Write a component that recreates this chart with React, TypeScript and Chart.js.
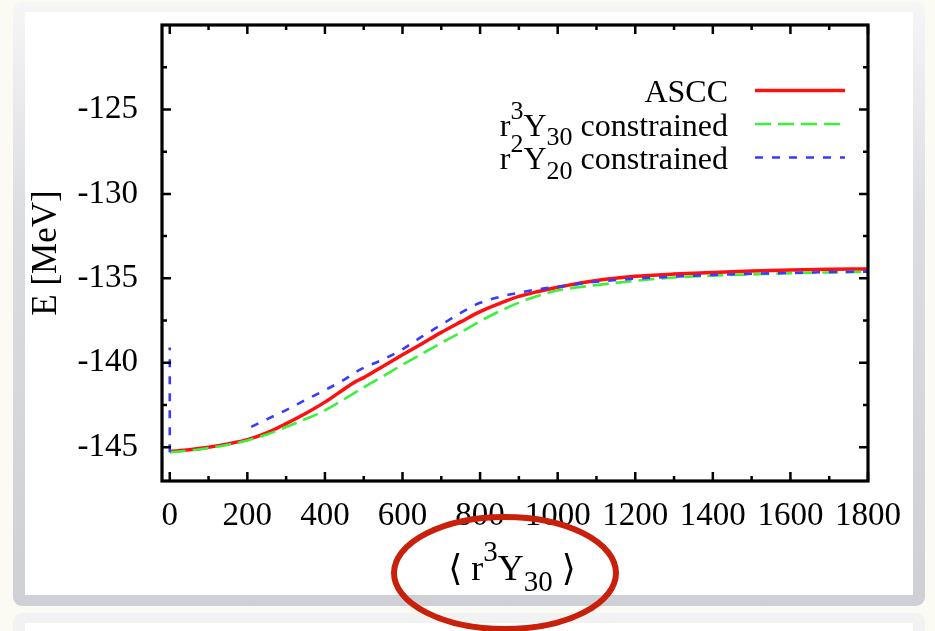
import React, { useEffect, useRef } from "react";
import { Chart, registerables } from "chart.js";

Chart.register(...registerables);

// ---- data ----
const xTickValues = [0, 200, 400, 600, 800, 1000, 1200, 1400, 1600, 1800];
const xTickLabels = ["0", "200", "400", "600", "800", "1000", "1200", "1400", "1600", "1800"];
const yTickValues = [-145, -140, -135, -130, -125];
const yTickLabels = ["-145", "-140", "-135", "-130", "-125"];

const asccX = [0, 50, 100, 150, 200, 250, 300, 350, 400, 450, 480, 500, 550, 600, 650, 700, 750, 800, 850, 900, 950, 1000, 1100, 1200, 1300, 1400, 1500, 1600, 1700, 1800];
const asccE = [-145.25, -145.15, -145.0, -144.8, -144.55, -144.15, -143.6, -143.0, -142.33, -141.55, -141.1, -140.88, -140.2, -139.53, -138.87, -138.2, -137.58, -136.97, -136.49, -136.07, -135.78, -135.53, -135.13, -134.88, -134.75, -134.66, -134.57, -134.5, -134.46, -134.45];

const r3y30X = [0, 50, 100, 150, 200, 250, 300, 350, 400, 450, 500, 550, 600, 650, 700, 750, 800, 850, 900, 950, 1000, 1100, 1200, 1300, 1400, 1500, 1600, 1700, 1800];
const r3y30E = [-145.3, -145.2, -145.05, -144.85, -144.6, -144.25, -143.8, -143.33, -142.82, -142.15, -141.46, -140.8, -140.12, -139.47, -138.83, -138.2, -137.54, -136.95, -136.44, -136.03, -135.72, -135.4, -135.15, -134.95, -134.84, -134.77, -134.7, -134.65, -134.62];

const r2y20SpikeX = [0, 0];
const r2y20SpikeE = [-145.3, -139.1];
const r2y20X = [210, 250, 300, 350, 400, 450, 480, 500, 550, 600, 650, 700, 750, 800, 850, 900, 950, 1000, 1100, 1200, 1300, 1400, 1500, 1600, 1700, 1800];
const r2y20E = [-143.8, -143.35, -142.8, -142.2, -141.62, -141.0, -140.55, -140.3, -139.8, -139.2, -138.45, -137.75, -137.05, -136.45, -136.1, -135.85, -135.65, -135.5, -135.2, -135.02, -134.9, -134.8, -134.73, -134.68, -134.63, -134.6];

// legend / titles (rich text segments: s = 1 superscript, -1 subscript)
const legendAscc = [{ t: "ASCC", s: 0 }];
const legendR3 = [{ t: "r", s: 0 }, { t: "3", s: 1 }, { t: "Y", s: 0 }, { t: "30", s: -1 }, { t: " constrained", s: 0 }];
const legendR2 = [{ t: "r", s: 0 }, { t: "2", s: 1 }, { t: "Y", s: 0 }, { t: "20", s: -1 }, { t: " constrained", s: 0 }];
const xTitle = [{ t: "\u27E8 r", s: 0 }, { t: "3", s: 1 }, { t: "Y", s: 0 }, { t: "30", s: -1 }, { t: " \u27E9", s: 0 }];
const yTitle = "E [MeV]";

const FONT = "'Liberation Serif', 'Times New Roman', 'DejaVu Serif', serif";
const RED = "#ff1010";
const GREEN = "#3ef03e";
const BLUE = "#3a3aff";

type Seg = { t: string; s: number };

function drawRich(ctx: CanvasRenderingContext2D, segs: Seg[], x: number, baseline: number, size: number, align: "right" | "center") {
  const small = Math.round(size * 0.8);
  const widths = segs.map((sg) => {
    ctx.font = `${sg.s ? small : size}px ${FONT}`;
    return ctx.measureText(sg.t).width;
  });
  const total = widths.reduce((a, b) => a + b, 0);
  let cx = align === "right" ? x - total : x - total / 2;
  ctx.textAlign = "left";
  ctx.textBaseline = "alphabetic";
  segs.forEach((sg, i) => {
    ctx.font = `${sg.s ? small : size}px ${FONT}`;
    const dy = sg.s === 1 ? -size * 0.52 : sg.s === -1 ? size * 0.3 : 0;
    ctx.fillText(sg.t, cx, baseline + dy);
    cx += widths[i];
  });
}

const framePlugin = {
  id: "gnuFrame",
  afterDraw(chart: any) {
    const { ctx, chartArea } = chart;
    const { left, right, top, bottom } = chartArea;
    const xs = chart.scales.x;
    const ys = chart.scales.y;
    ctx.save();
    ctx.strokeStyle = "#000";
    ctx.lineCap = "butt";
    // ticks
    ctx.lineWidth = 2.5;
    const major = 9;
    const minor = 5;
    const xMinor = xTickValues.map((v) => v + 100).filter((v) => v < 1800);
    const yMinor = yTickValues.map((v) => v + 2.5);
    ctx.beginPath();
    xTickValues.forEach((v) => {
      const p = xs.getPixelForValue(v);
      ctx.moveTo(p, bottom); ctx.lineTo(p, bottom - major);
      ctx.moveTo(p, top); ctx.lineTo(p, top + major);
    });
    xMinor.forEach((v) => {
      const p = xs.getPixelForValue(v);
      ctx.moveTo(p, bottom); ctx.lineTo(p, bottom - minor);
      ctx.moveTo(p, top); ctx.lineTo(p, top + minor);
    });
    yTickValues.forEach((v) => {
      const p = ys.getPixelForValue(v);
      ctx.moveTo(left, p); ctx.lineTo(left + major, p);
      ctx.moveTo(right, p); ctx.lineTo(right - major, p);
    });
    yMinor.forEach((v) => {
      const p = ys.getPixelForValue(v);
      ctx.moveTo(left, p); ctx.lineTo(left + minor, p);
      ctx.moveTo(right, p); ctx.lineTo(right - minor, p);
    });
    ctx.stroke();
    // frame
    ctx.lineWidth = 3.2;
    ctx.strokeRect(left, top, right - left, bottom - top);

    // legend
    ctx.fillStyle = "#000";
    const textRight = 728;
    const sx0 = 755;
    const sx1 = 845;
    const rows = [
      { segs: legendAscc, color: RED, dash: [] as number[], w: 3.5 },
      { segs: legendR3, color: GREEN, dash: [16, 7], w: 2.6 },
      { segs: legendR2, color: BLUE, dash: [8, 9], w: 2.6 },
    ];
    rows.forEach((r, i) => {
      const base = 102 + i * 33.5;
      ctx.fillStyle = "#000";
      drawRich(ctx, r.segs, textRight, base, 32, "right");
      ctx.beginPath();
      ctx.strokeStyle = r.color;
      ctx.lineWidth = r.w;
      ctx.setLineDash(r.dash);
      ctx.moveTo(sx0, base - 11.5);
      ctx.lineTo(sx1, base - 11.5);
      ctx.stroke();
      ctx.setLineDash([]);
    });

    // x axis title
    ctx.fillStyle = "#000";
    drawRich(ctx, xTitle, (left + right) / 2 - 3, 580, 36, "center");

    // highlight ellipse
    ctx.beginPath();
    ctx.strokeStyle = "#c9200b";
    ctx.lineWidth = 6;
    ctx.ellipse(505, 573, 111, 56, 0, 0, Math.PI * 2);
    ctx.stroke();
    ctx.restore();
  },
};

function pts(xs: number[], ys: number[]) {
  return xs.map((x, i) => ({ x, y: ys[i] }));
}

export default function App() {
  const ref = useRef<HTMLCanvasElement | null>(null);
  useEffect(() => {
    if (!ref.current) return;
    const tickFont = { family: FONT, size: 33 };
    const chart = new Chart(ref.current, {
      type: "line",
      data: {
        datasets: [
          {
            label: "ASCC",
            data: pts(asccX, asccE),
            borderColor: RED,
            borderWidth: 3.5,
            cubicInterpolationMode: "monotone",
            order: 3,
          },
          {
            label: "r3Y30 constrained",
            data: pts(r3y30X, r3y30E),
            borderColor: GREEN,
            borderWidth: 2.6,
            borderDash: [16, 7],
            cubicInterpolationMode: "monotone",
            order: 2,
          },
          {
            label: "r2Y20 constrained",
            data: pts(r2y20X, r2y20E),
            borderColor: BLUE,
            borderWidth: 2.6,
            borderDash: [8, 9],
            cubicInterpolationMode: "monotone",
            order: 1,
          },
          {
            label: "r2Y20 constrained (start)",
            data: pts(r2y20SpikeX, r2y20SpikeE),
            borderColor: BLUE,
            borderWidth: 2.6,
            borderDash: [8, 9],
            order: 1,
          },
        ],
      } as any,
      options: {
        responsive: false,
        maintainAspectRatio: false,
        animation: false,
        devicePixelRatio: 1,
        layout: { padding: { left: 0, top: 25, right: 935 - 868, bottom: 0 } },
        elements: { point: { radius: 0, hoverRadius: 0 }, line: { fill: false } },
        plugins: { legend: { display: false }, tooltip: { enabled: false }, title: { display: false } },
        scales: {
          x: {
            type: "linear",
            min: -20,
            max: 1800,
            afterBuildTicks: (s: any) => {
              s.ticks = xTickValues.map((v) => ({ value: v }));
            },
            afterFit: (s: any) => {
              s.height = 631 - 481;
              s.paddingLeft = 0;
              s.paddingRight = 0;
            },
            grid: { display: false, drawTicks: false },
            border: { display: false },
            ticks: {
              font: tickFont,
              color: "#000",
              padding: 16,
              maxRotation: 0,
              autoSkip: false,
              callback: (_v: any, i: number) => xTickLabels[i],
            },
          },
          y: {
            type: "linear",
            min: -147,
            max: -120,
            afterBuildTicks: (s: any) => {
              s.ticks = yTickValues.map((v) => ({ value: v }));
            },
            afterFit: (s: any) => {
              s.width = 162;
              s.paddingTop = 0;
              s.paddingBottom = 0;
            },
            grid: { display: false, drawTicks: false },
            border: { display: false },
            ticks: {
              font: tickFont,
              color: "#000",
              padding: 24,
              autoSkip: false,
              callback: (_v: any, i: number) => yTickLabels[i],
            },
            title: {
              display: true,
              text: yTitle,
              font: { family: FONT, size: 35 },
              color: "#000",
              padding: { top: 26, bottom: 0 },
            },
          },
        },
      } as any,
      plugins: [framePlugin],
    });
    return () => chart.destroy();
  }, []);

  return (
    <div style={{ position: "fixed", left: 0, top: 0, width: 935, height: 631, background: "#fbfbf3", overflow: "hidden" }}>
      <div style={{ position: "absolute", left: 13, top: 2, width: 912, height: 604, borderRadius: 9, background: "linear-gradient(#f6f6f7 0%, #dcdde1 35%, #cfd0d5 100%)" }} />
      <div style={{ position: "absolute", left: 25, top: 12, width: 888, height: 583, background: "#ffffff" }} />
      <div style={{ position: "absolute", left: 13, top: 613, width: 912, height: 40, borderRadius: 9, background: "#f2f2f3" }} />
      <div style={{ position: "absolute", left: 25, top: 623, width: 888, height: 30, background: "#ffffff" }} />
      <canvas ref={ref} width={935} height={631} style={{ position: "absolute", left: 0, top: 0, width: 935, height: 631 }} />
    </div>
  );
}
